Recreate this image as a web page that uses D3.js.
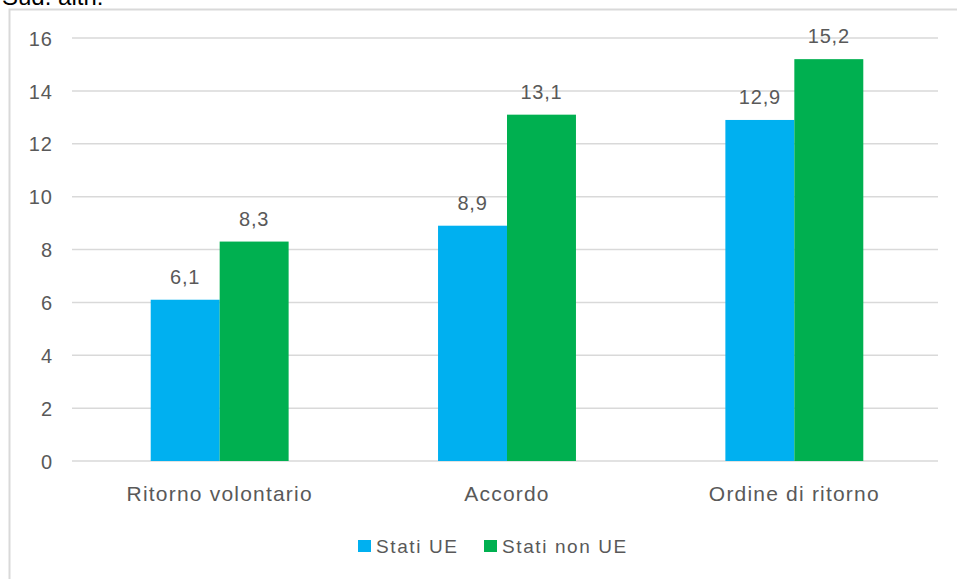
<!DOCTYPE html>
<html><head><meta charset="utf-8">
<script src="https://cdn.jsdelivr.net/npm/d3@7"></script>
<style>body{margin:0;background:#fff;}svg{display:block;font-family:"Liberation Sans",Arial,sans-serif;}</style>
</head><body>
<svg id="c" width="957" height="579"></svg>
<script>
const categories = ["Ritorno volontario", "Accordo", "Ordine di ritorno"];
const seriesNames = ["Stati UE", "Stati non UE"];
const statiUE = [6.1, 8.9, 12.9];
const statiNonUE = [8.3, 13.1, 15.2];
const yTicks = [0, 2, 4, 6, 8, 10, 12, 14, 16];
const colors = ["#00B0F0", "#00B050"];
const textColor = "#595959";

const svg = d3.select("#c");
// partial heading, cut off at the top like in the source screenshot
svg.append("text").attr("x", 2).attr("y", 5).attr("font-size", 24).attr("fill", "#000").text("Sud. altri:");
// chart border
svg.append("path").attr("d", "M9.5,579 V9.5 H957").attr("fill", "none").attr("stroke", "#d9d9d9").attr("stroke-width", 2);

const x0 = d3.scaleBand().domain(categories).range([76, 938]).paddingInner(0.52).paddingOuter(0.26);
const x1 = d3.scaleBand().domain(seriesNames).range([0, x0.bandwidth()]);
const y = d3.scaleLinear().domain([0, 16]).range([461, 38]);

const grid = svg.append("g");
grid.selectAll("line").data(yTicks).join("line")
  .attr("x1", 72).attr("x2", 938).attr("y1", d => y(d)).attr("y2", d => y(d))
  .attr("stroke", "#d9d9d9").attr("stroke-width", 1.5);

const yAxis = d3.axisLeft(y).tickValues(yTicks).tickSize(0).tickPadding(0).tickFormat(d3.format("d"));
const gy = svg.append("g").attr("transform", "translate(53,0)").call(yAxis);
gy.select(".domain").remove();
gy.selectAll("text").attr("font-size", 20).attr("fill", textColor).attr("font-family", "inherit")
  .attr("letter-spacing", 1).attr("dy", "0.36em");

const data = categories.map((c, i) => ({cat: c, vals: [statiUE[i], statiNonUE[i]]}));
const groups = svg.append("g").selectAll("g").data(data).join("g")
  .attr("transform", d => `translate(${x0(d.cat)},0)`);
groups.selectAll("rect").data(d => d.vals.map((v, j) => ({s: seriesNames[j], v, j}))).join("rect")
  .attr("x", d => x1(d.s)).attr("width", x1.bandwidth())
  .attr("y", d => y(d.v)).attr("height", d => y(0) - y(d.v))
  .attr("fill", d => colors[d.j]);
groups.selectAll("text.v").data(d => d.vals.map((v, j) => ({s: seriesNames[j], v, j}))).join("text")
  .attr("class", "v")
  .attr("x", d => x1(d.s) + x1.bandwidth() / 2).attr("y", d => y(d.v) - 16)
  .attr("text-anchor", "middle").attr("font-size", 20).attr("letter-spacing", 0.8).attr("fill", textColor)
  .text(d => d3.format(".1f")(d.v).replace(".", ","));

const xAxis = d3.axisBottom(x0).tickSize(0).tickPadding(0);
const gx = svg.append("g").attr("transform", "translate(0,501)").call(xAxis);
gx.select(".domain").remove();
gx.selectAll("text").attr("font-size", 21).attr("fill", textColor).attr("font-family", "inherit")
  .attr("letter-spacing", 1.2).attr("dy", 0);

const legend = svg.append("g");
const lx = [358, 484];
seriesNames.forEach((n, i) => {
  legend.append("rect").attr("x", lx[i]).attr("y", 540).attr("width", 13).attr("height", 12).attr("fill", colors[i]);
  legend.append("text").attr("x", lx[i] + 18).attr("y", 553).attr("font-size", 19).attr("letter-spacing", 1.6)
    .attr("fill", textColor).text(n);
});
</script>
</body></html>
